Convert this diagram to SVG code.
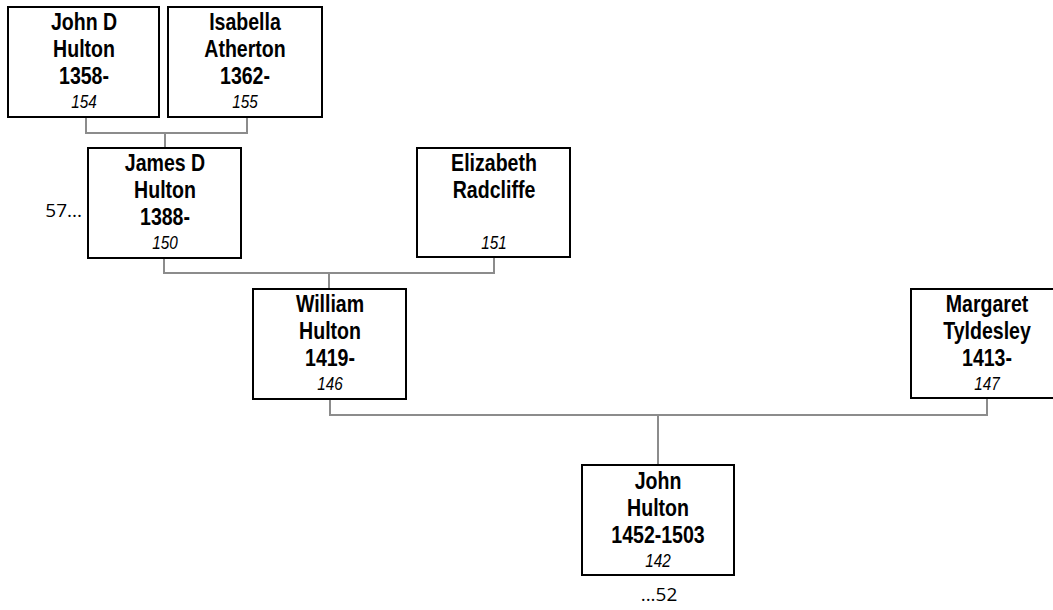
<svg xmlns="http://www.w3.org/2000/svg" width="1053" height="610" viewBox="0 0 1053 610">
<style>
.box{fill:#fff;stroke:#000;stroke-width:2}
.n{font-family:"Liberation Sans",Arial,sans-serif;font-weight:bold;font-size:23px;text-anchor:middle;fill:#000}
.id{font-family:"Liberation Sans",Arial,sans-serif;font-style:italic;font-size:18px;text-anchor:middle;fill:#000}
.c{fill:none;stroke:#8c8c8c;stroke-width:2}
.r{font-family:"Open Sans","Noto Sans",sans-serif;font-size:19px;fill:#000}
</style>
<rect width="1053" height="610" fill="#fff"/>
<g id="connectors">
<path class="c" d="M86,117 V133 H247 V117 M165,133 V148"/>
<path class="c" d="M164,258 V273 H494 V257 M329,273 V289"/>
<path class="c" d="M330,399 V415 H987 V398 M658,415 V465"/>
</g>
<g id="n154">
<rect class="box" x="8" y="7" width="151" height="110"/>
<g transform="translate(84,7) scale(0.85,1)">
<text class="n" y="23">John D</text><text class="n" y="50">Hulton</text><text class="n" y="77">1358-</text><text class="id" y="101">154</text>
</g>
</g>
<g id="n155">
<rect class="box" x="168" y="7" width="154" height="110"/>
<g transform="translate(245,7) scale(0.85,1)">
<text class="n" y="23">Isabella</text><text class="n" y="50">Atherton</text><text class="n" y="77">1362-</text><text class="id" y="101">155</text>
</g>
</g>
<g id="n150">
<rect class="box" x="88" y="148" width="153" height="110"/>
<g transform="translate(165,148) scale(0.85,1)">
<text class="n" y="23">James D</text><text class="n" y="50">Hulton</text><text class="n" y="77">1388-</text><text class="id" y="101">150</text>
</g>
</g>
<text class="r" x="82" y="217" text-anchor="end">57...</text>
<g id="n151">
<rect class="box" x="417" y="148" width="153" height="109"/>
<g transform="translate(494,148) scale(0.85,1)">
<text class="n" y="23">Elizabeth</text><text class="n" y="50">Radcliffe</text><text class="id" y="101">151</text>
</g>
</g>
<g id="n146">
<rect class="box" x="253" y="289" width="153" height="110"/>
<g transform="translate(330,289) scale(0.85,1)">
<text class="n" y="23">William</text><text class="n" y="50">Hulton</text><text class="n" y="77">1419-</text><text class="id" y="101">146</text>
</g>
</g>
<g id="n147">
<rect class="box" x="911" y="289" width="153" height="109"/>
<g transform="translate(987,289) scale(0.85,1)">
<text class="n" y="23">Margaret</text><text class="n" y="50">Tyldesley</text><text class="n" y="77">1413-</text><text class="id" y="101">147</text>
</g>
</g>
<g id="n142">
<rect class="box" x="582" y="465" width="152" height="110"/>
<g transform="translate(658,465) scale(0.85,1)">
<text class="n" y="24">John</text><text class="n" y="51">Hulton</text><text class="n" y="78">1452-1503</text><text class="id" y="102">142</text>
</g>
</g>
<text class="r" x="659" y="601" text-anchor="middle">...52</text>
</svg>
